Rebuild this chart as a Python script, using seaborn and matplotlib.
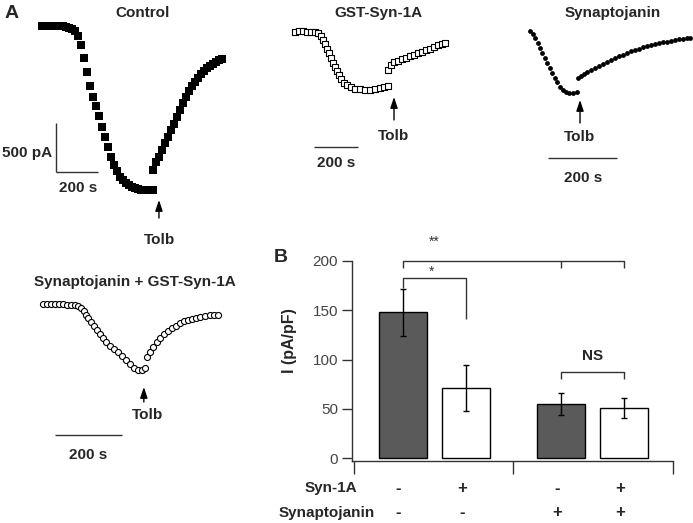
import numpy as np
import pandas as pd
import matplotlib
matplotlib.use("Agg")
import matplotlib.pyplot as plt
import seaborn as sns

sns.set_theme(style="ticks")
plt.rcParams["font.family"] = ["Liberation Sans", "DejaVu Sans"]

# ---------------- data: panel A traces (time in s, current in pA) ----------------
ctrl_t = [0, 14, 29, 43, 57, 71, 86, 100, 114, 129, 143, 157, 171, 186, 200, 214, 229, 243, 257,
          271, 286, 300, 314, 329, 343, 357, 371, 386, 400, 414, 429, 443, 457, 471, 486, 500, 514, 529,
          529, 543, 557, 571, 586, 600, 614, 629, 643, 657, 671, 686, 700, 714, 729, 743, 757, 771,
          786, 800, 814, 829, 843, 857]
ctrl_i = [0, 0, 0, 0, 0, 0, 0, 0, -10, -20, -31, -51, -102, -194, -326, -469, -612, -724, -816,
          -918, -1030, -1132, -1234, -1336, -1418, -1479, -1540, -1571, -1601, -1622, -1642, -1652,
          -1663, -1673, -1673, -1673, -1673, -1673,
          -1469, -1387, -1336, -1265, -1193, -1132, -1061, -1000, -928, -857, -785, -724, -663, -612,
          -571, -530, -490, -459, -428, -408, -388, -367, -347, -337]

gst_t = [0, 18, 36, 55, 73, 91, 105, 118, 127, 136, 145, 155, 164, 173, 182, 191, 200, 209, 223,
         236, 255, 273, 295, 318, 341, 364, 386, 405, 423,
         423, 436, 450, 468, 486, 505, 523, 541, 559, 577, 595, 614, 632, 650, 668, 682]
gst_i = [0, 10, 10, 0, 0, 0, -10, -41, -82, -122, -173, -214, -265, -316, -357, -398, -439, -479,
         -520, -541, -561, -581, -581, -592, -592, -581, -571, -561, -551,
         -388, -337, -306, -296, -275, -265, -245, -235, -214, -204, -184, -173, -153, -133, -122, -112]

synj_t = [0, 9, 15, 23, 29, 35, 44, 49, 58, 64, 73, 78, 87, 96, 104, 113, 125, 136,
          139, 148, 157, 165, 177, 189, 200, 212, 223, 235, 247, 258, 270, 281, 293, 305, 316,
          328, 339, 351, 363, 374, 386, 397, 409, 421, 432, 444, 455, 464]
synj_i = [10, -20, -61, -112, -163, -214, -265, -316, -367, -418, -469, -510, -561, -592, -612,
          -622, -622, -612,
          -469, -449, -428, -408, -388, -367, -347, -326, -306, -286, -265, -245, -235, -214, -194,
          -184, -173, -153, -143, -133, -122, -112, -102, -102, -92, -82, -71, -71, -61, -61]

combo_t = [0, 12, 24, 36, 48, 60, 72, 84, 96, 104, 113, 122, 128, 134, 143, 152, 161, 170, 179,
           188, 200, 212, 224, 236, 248, 260, 272, 284, 296, 304,
           310, 319, 328, 340, 349, 361, 373, 385, 397, 409, 421, 433, 445, 457, 469, 484, 498, 510, 522]
combo_i = [0, 0, 0, 0, 0, 0, -10, -10, -10, -20, -41, -71, -112, -143, -184, -224, -265, -306,
           -347, -388, -428, -459, -490, -530, -571, -612, -653, -673, -673, -653,
           -541, -490, -439, -388, -347, -306, -275, -245, -224, -194, -173, -163, -153, -143, -133,
           -122, -112, -112, -112]

trace_titles = ["Control", "GST-Syn-1A", "Synaptojanin", "Synaptojanin + GST-Syn-1A"]
tolb_time = [557, 450, 145, 301]
scale_time = 200   # s
scale_current = 500  # pA

# ---------------- data: panel B ----------------
groups = ["-", "-", "+", "+"]          # Synaptojanin
syn1a = ["-", "+", "-", "+"]           # Syn-1A
current_mean = [148, 71, 55, 51]
current_sem = [24, 23, 11, 10]
yticks_b = [0, 50, 100, 150, 200]

# ---------------- figure ----------------
W, H = 693, 523
fig = plt.figure(figsize=(W / 100, H / 100), dpi=100)
fig.patch.set_facecolor("white")


def fpos(x, y):
    return x / W, 1 - y / H


def ftext(x, y, s, **kw):
    kw.setdefault("ha", "center")
    kw.setdefault("va", "center")
    fig.text(*fpos(x, y), s, **kw)


def trace_axes(x0, y0, sx, sy):
    ax = fig.add_axes([0, 0, 1, 1])
    ax.set_xlim(-x0 * sx, (W - x0) * sx)
    ax.set_ylim(-(H - y0) * sy, y0 * sy)
    ax.axis("off")
    ax.patch.set_visible(False)
    return ax


def px2data(p, px, py):
    x0, y0, sx, sy = p
    return (px - x0) * sx, (y0 - py) * sy


traces = [
    dict(t=ctrl_t, i=ctrl_i, p=(42, 26, 4.762, 10.2), marker="s", s=27, fc="black", ec="black", lw=0,
         bar=(56, 172), vbar=True, arrow=(200, 218)),
    dict(t=gst_t, i=gst_i, p=(295, 32, 4.545, 10.2), marker="s", s=22, fc="white", ec="black", lw=0.8,
         bar=(314, 147), vbar=False, arrow=(97, 120)),
    dict(t=synj_t, i=synj_i, p=(530, 32, 2.899, 10.2), marker="o", s=12, fc="black", ec="black", lw=0,
         bar=(548, 158), vbar=False, arrow=(100, 123)),
    dict(t=combo_t, i=combo_i, p=(43, 304, 2.985, 10.2), marker="o", s=19, fc="white", ec="black", lw=0.8,
         bar=(55, 435), vbar=False, arrow=(387, 402)),
]

for k, tr in enumerate(traces):
    ax = trace_axes(*tr["p"])
    sns.scatterplot(x=tr["t"], y=tr["i"], ax=ax, marker=tr["marker"], s=tr["s"],
                    color=tr["fc"], edgecolor=tr["ec"], linewidth=tr["lw"], zorder=3)
    # scale bar
    bx, by = px2data(tr["p"], *tr["bar"])
    ax.plot([bx, bx + scale_time], [by, by], color="#333333", lw=1.0, solid_capstyle="butt")
    if tr["vbar"]:
        ax.plot([bx, bx], [by, by + scale_current], color="#333333", lw=1.0, solid_capstyle="butt")
    # Tolb arrow
    _, ytip = px2data(tr["p"], 0, tr["arrow"][0])
    _, ytail = px2data(tr["p"], 0, tr["arrow"][1])
    ax.annotate("", xy=(tolb_time[k], ytip), xytext=(tolb_time[k], ytail),
                arrowprops=dict(arrowstyle="-|>,head_length=0.65,head_width=0.22",
                                color="black", lw=1.0, shrinkA=0, shrinkB=0, mutation_scale=10))

fs = 11
# titles
ftext(143, 13, trace_titles[0], fontsize=fs, fontweight="bold")
ftext(378, 13, trace_titles[1], fontsize=fs, fontweight="bold")
ftext(613, 13, trace_titles[2], fontsize=fs, fontweight="bold")
ftext(135, 282, trace_titles[3], fontsize=fs, fontweight="bold")
ftext(12, 13, "A", fontsize=14, fontweight="bold")
ftext(281, 257, "B", fontsize=14, fontweight="bold")
# Tolb labels
for (x, y) in [(160, 240), (394, 136), (580, 137), (148, 415)]:
    ftext(x, y, "Tolb", fontsize=fs, fontweight="bold")
# scale labels
ftext(52, 153, f"{scale_current} pA", fontsize=fs, fontweight="bold", ha="right")
for (x, y) in [(78, 188), (336, 163), (583, 178), (88, 455)]:
    ftext(x, y, f"{scale_time} s", fontsize=fs, fontweight="bold")

# ---------------- panel B ----------------
axb = fig.add_axes([352 / W, 1 - 461 / H, (673 - 352) / W, (461 - 261) / H])
df = pd.DataFrame({"Synaptojanin": groups, "Syn-1A": syn1a, "I": current_mean})
sns.barplot(data=df, x="Synaptojanin", y="I", hue="Syn-1A", order=["-", "+"], hue_order=["-", "+"],
            palette=["#5a5a5a", "white"], edgecolor="black", linewidth=1.0, gap=0.24,
            errorbar=None, legend=False, ax=axb, zorder=2)
bars = sorted(axb.patches, key=lambda p: p.get_x())
centers = [b.get_x() + b.get_width() / 2 for b in bars]
axb.errorbar(centers, current_mean, yerr=current_sem, fmt="none", ecolor="black",
             elinewidth=1.0, capsize=2.5, capthick=1.0, zorder=3)

axb.set_xlim(-0.52, 1.51)
axb.set_ylim(-3, 200)
axb.set_yticks(yticks_b)
axb.set_yticklabels([str(v) for v in yticks_b], fontsize=11, color="#444444")
axb.set_xticks([-0.51, 0.5, 1.51])
axb.set_xticklabels([])
axb.tick_params(axis="x", direction="out", length=9, width=1, color="#333333")
axb.tick_params(axis="y", direction="out", length=7, width=1, color="#333333", pad=3)
axb.spines["left"].set_bounds(-3, 200)
for s in ["top", "right"]:
    axb.spines[s].set_visible(False)
for s in ["left", "bottom"]:
    axb.spines[s].set_color("#333333")
    axb.spines[s].set_linewidth(1.0)
axb.set_xlabel("")
axb.set_ylabel("I (pA/pF)", fontsize=11.5, fontweight="bold")
axb.yaxis.set_label_coords(-0.17, 0.6)
axb.patch.set_visible(False)

# significance brackets
c1, c2, c3, c4 = centers
kw = dict(color="#333333", lw=1.0, clip_on=False, solid_capstyle="butt")
axb.plot([c1, c1, c4, c4], [193, 200, 200, 193], **kw)
axb.plot([c3, c3], [200, 193], **kw)
axb.text((c1 + c2) / 2, 219, "**", ha="center", va="center", fontsize=10, color="#333333")
axb.plot([c1, c1, c2, c2], [173, 183, 183, 141], **kw)
axb.text((c1 + c2) / 2 - 0.02, 189, "*", ha="center", va="center", fontsize=10, color="#333333")
axb.plot([c3, c3, c4, c4], [80, 87, 87, 80], **kw)
axb.text((c3 + c4) / 2, 104, "NS", ha="center", va="center", fontsize=11, fontweight="bold")

# condition table under the bars
ftext(357, 488, "Syn-1A", fontsize=fs, fontweight="bold", ha="right")
ftext(375, 513, "Synaptojanin", fontsize=fs, fontweight="bold", ha="right")
for cx, a, b in zip(centers, syn1a, groups):
    xpx = 352 + (cx + 0.52) / (1.51 + 0.52) * (673 - 352)
    ftext(xpx - 4, 488, a, fontsize=12, fontweight="bold")
    ftext(xpx - 4, 513, b, fontsize=12, fontweight="bold")

fig.savefig("out.png", dpi=100)
